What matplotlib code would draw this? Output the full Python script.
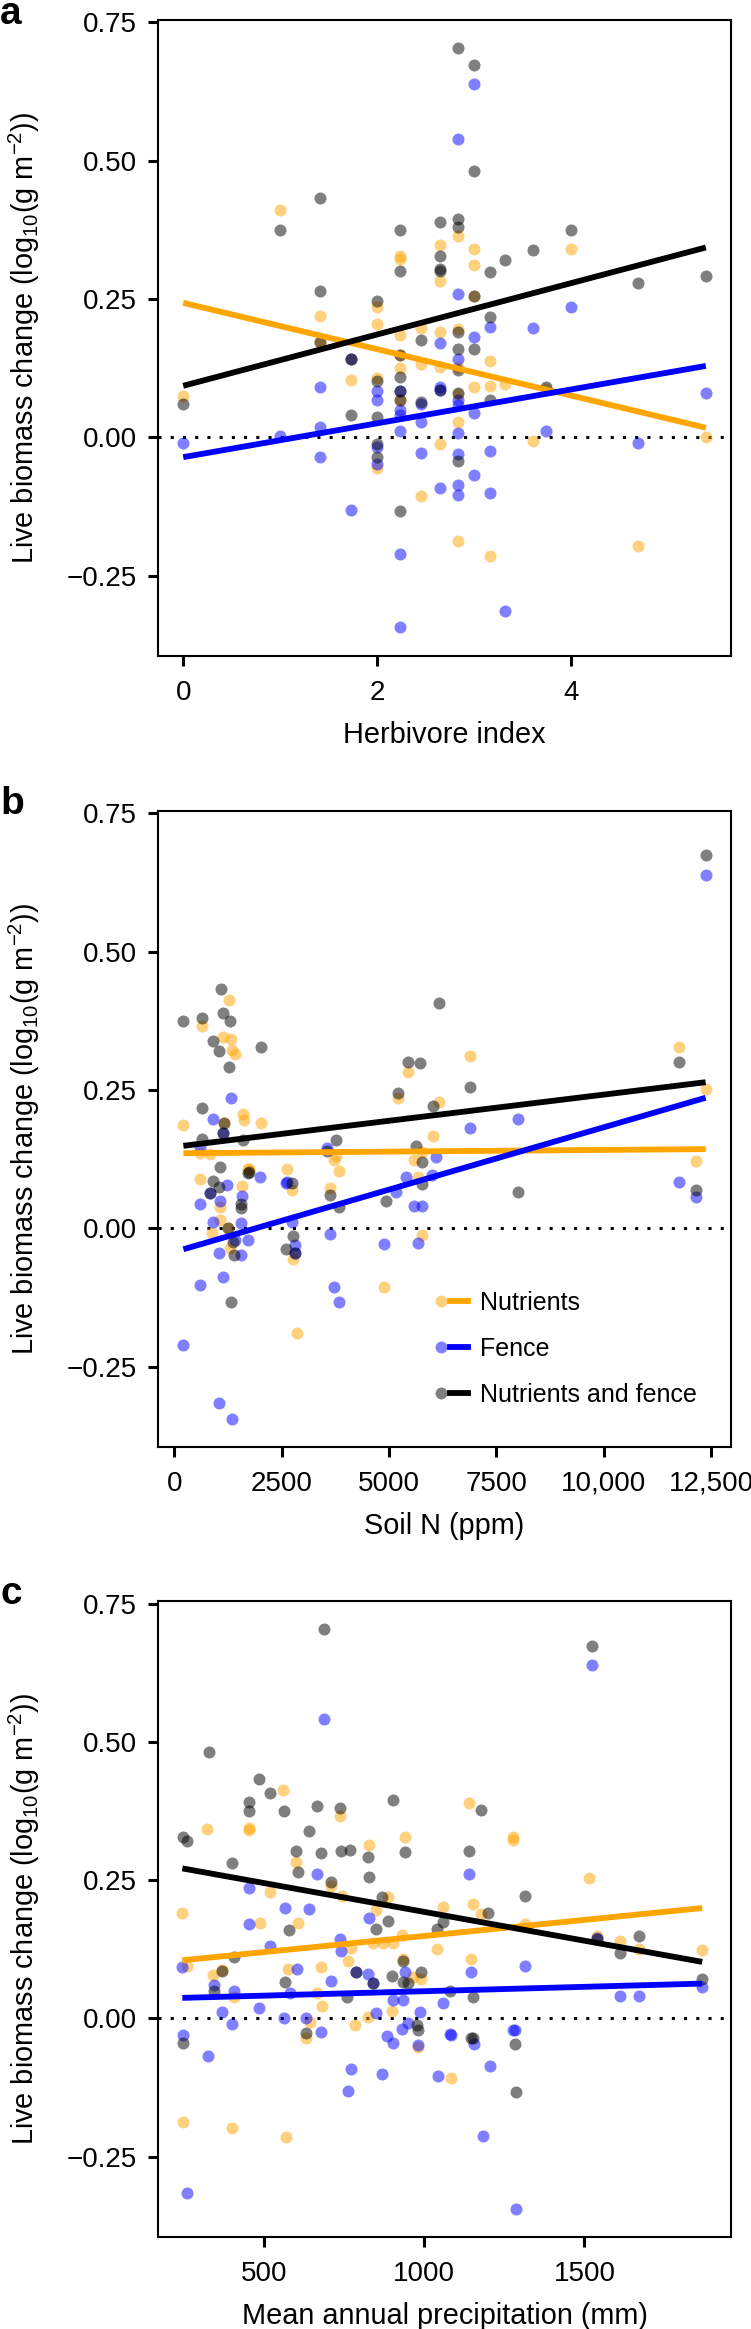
import numpy as np
import matplotlib
matplotlib.use("Agg")
import matplotlib.pyplot as plt
from matplotlib.lines import Line2D
from matplotlib.legend_handler import HandlerTuple

plt.rcParams['font.family'] = ['Liberation Sans', 'DejaVu Sans']
plt.rcParams['mathtext.fontset'] = 'custom'
plt.rcParams['mathtext.rm'] = 'Liberation Sans'
plt.rcParams['mathtext.it'] = 'Liberation Sans:italic'

series_names = ["Nutrients", "Fence", "Nutrients and fence"]
series_colors = ["#FFA500", "#0000FF", "#000000"]

# panel a: herbivore index
herb_x_nut = [0, 1.0, 1.41, 1.41, 1.73, 1.73, 2.0, 2.0, 2.0, 2.0,
              2.24, 2.24, 2.24, 2.24, 2.24, 2.24, 2.45, 2.45, 2.45,
              2.65, 2.65, 2.65, 2.65, 2.65, 2.83, 2.83, 2.83, 2.83, 2.83, 2.83,
              3.0, 3.0, 3.0, 3.0, 3.16, 3.16, 3.16, 3.32, 3.61, 3.74, 4.0, 4.69, 5.39]
herb_y_nut = [0.074, 0.411, 0.219, 0.172, 0.142, 0.104, 0.236, 0.205, 0.108, -0.055,
              0.327, 0.322, 0.185, 0.149, 0.125, 0.068, 0.198, 0.133, -0.107,
              0.347, 0.282, 0.190, 0.127, -0.012, 0.364, 0.196, 0.127, 0.079, 0.028, -0.187,
              0.341, 0.312, 0.255, 0.090, 0.137, 0.092, -0.214, 0.097, -0.007, 0.088, 0.341, -0.197, 0.000]
herb_x_fen = [0, 1.0, 1.41, 1.41, 1.41, 1.73, 1.73, 2.0, 2.0, 2.0, 2.0,
              2.24, 2.24, 2.24, 2.24, 2.24, 2.24, 2.45, 2.45, 2.45,
              2.65, 2.65, 2.65, 2.65, 2.83, 2.83, 2.83, 2.83, 2.83, 2.83, 2.83, 2.83, 2.83,
              3.0, 3.0, 3.0, 3.0, 3.16, 3.16, 3.16, 3.32, 3.61, 3.74, 4.0, 4.69, 5.39]
herb_y_fen = [-0.010, 0.002, 0.090, 0.019, -0.036, 0.142, -0.132, 0.083, 0.067, -0.017, -0.048,
              0.084, 0.049, 0.040, 0.012, -0.212, -0.344, 0.060, 0.028, -0.028,
              0.170, 0.091, 0.085, -0.091, 0.540, 0.259, 0.142, 0.067, 0.058, 0.007, -0.031, -0.087, -0.105,
              0.638, 0.182, 0.043, -0.069, 0.199, -0.025, -0.101, -0.315, 0.198, 0.011, 0.236, -0.011, 0.080]
herb_x_both = [0, 1.0, 1.41, 1.41, 1.41, 1.73, 1.73, 2.0, 2.0, 2.0, 2.0, 2.0,
               2.24, 2.24, 2.24, 2.24, 2.24, 2.24, 2.24, 2.45, 2.45,
               2.65, 2.65, 2.65, 2.65, 2.65, 2.83, 2.83, 2.83, 2.83, 2.83, 2.83, 2.83, 2.83,
               3.0, 3.0, 3.0, 3.0, 3.16, 3.16, 3.16, 3.32, 3.61, 3.74, 4.0, 4.69, 5.39]
herb_y_both = [0.060, 0.375, 0.432, 0.264, 0.172, 0.142, 0.040, 0.246, 0.102, 0.037, -0.013, -0.036,
               0.375, 0.300, 0.148, 0.109, 0.084, 0.068, -0.134, 0.175, 0.064,
               0.389, 0.327, 0.304, 0.300, 0.086, 0.704, 0.394, 0.380, 0.190, 0.160, 0.121, 0.080, -0.043,
               0.673, 0.481, 0.255, 0.160, 0.298, 0.218, 0.068, 0.321, 0.339, 0.090, 0.374, 0.279, 0.291]

# panel b: soil N (ppm)
soil_x_nut = [638, 1266, 1126, 1312, 1335, 1423, 212, 1150, 1592, 1615, 2028, 5200, 5447, 6881,
              6164, 6029, 11757, 12372, 591, 831, 3710, 3834, 1723, 591, 1569, 1064, 2616, 2732,
              3624, 5579, 5758, 5679, 5758, 1064, 1257, 870, 1297, 2771, 4881, 2847, 12148, 1748, 3755]
soil_y_nut = [0.365, 0.412, 0.346, 0.342, 0.322, 0.315, 0.186, 0.190, 0.206, 0.196, 0.190, 0.235, 0.282, 0.312,
              0.229, 0.167, 0.327, 0.251, 0.136, 0.134, 0.124, 0.104, 0.107, 0.089, 0.076, 0.039, 0.107, 0.070,
              0.072, 0.124, 0.137, 0.093, -0.012, 0.015, 0.000, -0.008, -0.036, -0.056, -0.107, -0.189, 0.122, 0.108, 0.130]
soil_x_fen = [12372, 1312, 908, 1126, 3563, 6881, 8013, 591, 1995, 1220, 831, 591, 1064, 1569, 2600,
              5160, 5393, 6084, 5991, 5579, 5758, 5679, 908, 1553, 1413, 1723, 1048, 1553, 2732, 2810,
              2810, 3624, 4881, 598, 1141, 3718, 3834, 212, 1041, 1344, 2633, 11757, 12148]
soil_y_fen = [0.638, 0.236, 0.198, 0.172, 0.145, 0.182, 0.198, 0.146, 0.092, 0.078, 0.063, 0.044, 0.050, 0.058, 0.082,
              0.066, 0.092, 0.128, 0.096, 0.041, 0.041, -0.026, 0.011, 0.009, -0.021, -0.021, -0.044, -0.048, 0.011, -0.031,
              -0.044, -0.010, -0.029, -0.103, -0.088, -0.106, -0.133, -0.212, -0.316, -0.345, 0.084, 0.083, 0.056]
soil_x_both = [12372, 212, 638, 1098, 1126, 1300, 908, 1043, 1266, 2028, 638, 1150, 1126, 638, 1592, 3754,
               5200, 5447, 5714, 6164, 6881, 6029, 5638, 11757, 3547, 1064, 1723, 908, 1048, 831, 1553, 1553,
               2732, 3624, 3834, 4921, 5758, 5758, 1257, 1373, 1390, 2771, 2600, 2810, 1313, 8013, 12148, 1748]
soil_y_both = [0.674, 0.375, 0.380, 0.432, 0.389, 0.374, 0.339, 0.321, 0.291, 0.327, 0.217, 0.190, 0.172, 0.161, 0.160, 0.160,
               0.244, 0.300, 0.298, 0.407, 0.255, 0.221, 0.149, 0.300, 0.140, 0.110, 0.099, 0.086, 0.075, 0.063, 0.044, 0.036,
               0.082, 0.060, 0.039, 0.049, 0.119, 0.080, 0.000, -0.024, -0.048, -0.014, -0.038, -0.044, -0.134, 0.065, 0.069, 0.102]

# panel c: mean annual precipitation (mm)
map_x_nut = [559, 737, 322, 453, 453, 828, 940, 600, 518, 707, 742, 886, 244, 849, 1059, 487, 604, 929,
             841, 870, 901, 770, 1039, 761, 257, 341, 367, 575, 677, 932, 966, 989, 405, 664, 681, 898, 643,
             823, 783, 1140, 1278, 1278, 1515, 1151, 1178, 1314, 1538, 1611, 1670, 1868, 1146, 631, 979,
             1084, 247, 398, 569]
map_y_nut = [0.412, 0.365, 0.342, 0.345, 0.341, 0.313, 0.328, 0.283, 0.229, 0.240, 0.222, 0.220, 0.191, 0.196, 0.202,
             0.172, 0.173, 0.151, 0.136, 0.136, 0.136, 0.127, 0.125, 0.104, 0.095, 0.078, 0.088, 0.089, 0.093, 0.108,
             0.074, 0.071, 0.038, 0.045, 0.023, 0.014, -0.007, 0.002, -0.012, 0.389, 0.322, 0.328, 0.253, 0.207,
             0.189, 0.171, 0.148, 0.140, 0.125, 0.124, 0.107, -0.036, -0.051, -0.107, -0.188, -0.198, -0.214]
map_x_fen = [687, 1523, 665, 453, 566, 640, 828, 453, 737, 740, 518, 244, 603, 786, 823, 841, 940, 707,
             343, 405, 580, 903, 932, 367, 484, 849, 987, 1059, 562, 629, 398, 950, 931, 247, 677, 884,
             1140, 1146, 1315, 1611, 1670, 1868, 1538, 1080, 1278, 323, 902, 979, 1084, 1156, 1283, 770,
             869, 1043, 1204, 762, 1182, 258, 1287]
map_y_fen = [0.541, 0.639, 0.261, 0.236, 0.199, 0.198, 0.182, 0.171, 0.143, 0.122, 0.131, 0.092, 0.090, 0.083, 0.080,
             0.064, 0.084, 0.067, 0.060, 0.050, 0.045, 0.034, 0.034, 0.012, 0.018, 0.009, 0.012, 0.027, 0.000, 0.000,
             -0.011, -0.009, -0.020, -0.030, -0.025, -0.032, 0.261, 0.083, 0.095, 0.041, 0.041, 0.056, 0.145, -0.029,
             -0.021, -0.068, -0.044, -0.049, -0.030, -0.047, -0.022, -0.092, -0.101, -0.104, -0.086, -0.131, -0.212,
             -0.316, -0.345]
map_x_both = [687, 1523, 326, 484, 518, 453, 453, 561, 666, 737, 903, 245, 259, 641, 940, 600, 606, 677,
              740, 768, 823, 827, 398, 707, 867, 886, 578, 849, 1039, 1059, 405, 367, 786, 841, 932, 899,
              932, 950, 989, 566, 343, 759, 976, 629, 1140, 1178, 1314, 1200, 1538, 1611, 1670, 1868, 1080,
              1151, 1146, 247, 979, 1153, 1283, 1287]
map_y_both = [0.704, 0.674, 0.482, 0.433, 0.408, 0.391, 0.375, 0.375, 0.383, 0.381, 0.395, 0.327, 0.321, 0.339, 0.300,
              0.303, 0.264, 0.299, 0.303, 0.304, 0.292, 0.256, 0.280, 0.246, 0.220, 0.176, 0.160, 0.161, 0.161, 0.175,
              0.110, 0.086, 0.083, 0.064, 0.104, 0.077, 0.066, 0.063, 0.083, 0.066, 0.050, 0.038, -0.012, -0.027,
              0.303, 0.377, 0.222, 0.190, 0.143, 0.119, 0.149, 0.071, 0.050, 0.038, -0.035, -0.044, -0.021, -0.036,
              -0.047, -0.134]

# fitted lines: intercept, slope (nutrients, fence, nutrients and fence)
herb_fit = [(0.243, -0.0419), (-0.036, 0.0306), (0.093, 0.0464)]
soil_fit = [(0.1355, 0.61e-6), (-0.0428, 22.53e-6), (0.147, 9.46e-6)]
map_fit = [(0.0907, 5.82e-5), (0.0331, 1.59e-5), (0.2965, -1.041e-4)]

W, H = 751, 2329
fig = plt.figure(figsize=(W / 100, H / 100), dpi=100)

panels = [
    dict(letter="a", xs=[herb_x_nut, herb_x_fen, herb_x_both], ys=[herb_y_nut, herb_y_fen, herb_y_both],
         fit=herb_fit, xlabel="Herbivore index", xlim=(-0.26, 5.65), xticks=[0, 2, 4],
         xticklabels=["0", "2", "4"], bottom=0.71846, letter_y=24.0),
    dict(letter="b", xs=[soil_x_nut, soil_x_fen, soil_x_both], ys=[soil_y_nut, soil_y_fen, soil_y_both],
         fit=soil_fit, xlabel="Soil N (ppm)", xlim=(-379, 12963), xticks=[0, 2500, 5000, 7500, 10000, 12500],
         xticklabels=["0", "2500", "5000", "7500", "10,000", "12,500"], bottom=0.37883, letter_y=813.5),
    dict(letter="c", xs=[map_x_nut, map_x_fen, map_x_both], ys=[map_y_nut, map_y_fen, map_y_both],
         fit=map_fit, xlabel="Mean annual precipitation (mm)", xlim=(168, 1958), xticks=[500, 1000, 1500],
         xticklabels=["500", "1000", "1500"], bottom=0.03959, letter_y=1603.5),
]

axes = []
for p in panels:
    ax = fig.add_axes([0.2104, p["bottom"], 0.763, 0.2731])
    axes.append(ax)
    ax.axhline(0, color="black", lw=2.2, linestyle=(0, (1, 3)), zorder=1)
    for x, y, c in zip(p["xs"], p["ys"], series_colors):
        ax.scatter(x, y, s=75, color=c, alpha=0.5, linewidths=0, zorder=2)
    allx = np.concatenate([np.array(v, dtype=float) for v in p["xs"]])
    xl = np.array([allx.min(), allx.max()])
    for (b0, b1), c in zip(p["fit"], series_colors):
        ax.plot(xl, b0 + b1 * xl, color=c, lw=4.2, solid_capstyle="butt", zorder=3)
    ax.set_xlim(*p["xlim"])
    ax.set_ylim(-0.395, 0.755)
    ax.set_yticks([-0.25, 0, 0.25, 0.5, 0.75])
    ax.set_yticklabels(["\u22120.25", "0.00", "0.25", "0.50", "0.75"])
    ax.set_xticks(p["xticks"])
    ax.set_xticklabels(p["xticklabels"])
    ax.tick_params(axis="both", direction="out", length=7.5, width=2.2, labelsize=20, color="black")
    ax.tick_params(axis="y", pad=7.5)
    ax.tick_params(axis="x", pad=9.9)
    for s in ax.spines.values():
        s.set_linewidth(1.5)
    ax.set_xlabel(p["xlabel"], fontsize=20.8, labelpad=10.6)
    ax.set_ylabel("Live biomass change (log$_{10}$(g m$^{-2}$))", fontsize=20.8, labelpad=17.8)
    # panel letter, baseline given in pixels from the top
    fig.text(0.0, 1 - p["letter_y"] / H, p["letter"], fontsize=28, fontweight="bold",
             ha="left", va="baseline")

# legend in panel b
handles = []
for c in series_colors:
    dot = Line2D([], [], linestyle="none", marker="o", markersize=8.6, markerfacecolor=c,
                 markeredgewidth=0, alpha=0.5)
    line = Line2D([], [], color=c, lw=4.2)
    handles.append((dot, line))
axes[1].legend(handles, series_names, handler_map={tuple: HandlerTuple(ndivide=None, pad=0)},
               loc="center left", bbox_to_anchor=(0.478, 0.1537), frameon=False, fontsize=18,
               handlelength=1.45, handletextpad=0.48, labelspacing=0.88, borderpad=0, borderaxespad=0)

fig.savefig("out.png", dpi=100)
